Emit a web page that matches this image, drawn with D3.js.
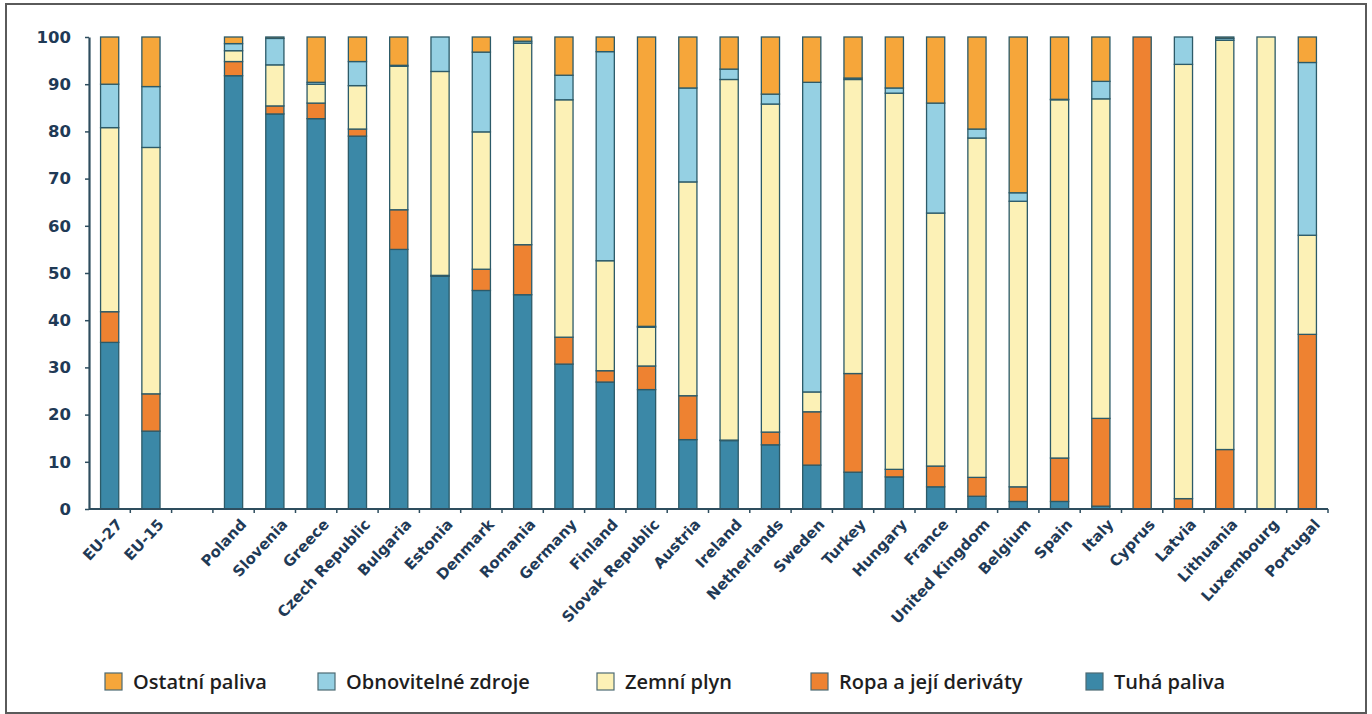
<!DOCTYPE html>
<html>
<head>
<meta charset="utf-8">
<script src="https://cdn.jsdelivr.net/npm/d3@7/dist/d3.min.js"></script>
<style>
  html, body { margin: 0; padding: 0; background: #ffffff; }
  svg { display: block; }
</style>
</head>
<body>
<svg id="chart" width="1372" height="714"></svg>
<script>
// Categories along the x axis ("" is the empty spacer slot after the EU aggregates)
const categories = ["EU-27", "EU-15", "", "Poland", "Slovenia", "Greece", "Czech Republic",
  "Bulgaria", "Estonia", "Denmark", "Romania", "Germany", "Finland", "Slovak Republic",
  "Austria", "Ireland", "Netherlands", "Sweden", "Turkey", "Hungary", "France",
  "United Kingdom", "Belgium", "Spain", "Italy", "Cyprus", "Latvia", "Lithuania",
  "Luxembourg", "Portugal"];

// Shares (%) per fuel, one value per category, stacked bottom to top
const tuhaPaliva = [35.3, 16.5, null, 91.8, 83.7, 82.7, 79.0, 55.0, 49.3, 46.3, 45.4, 30.7, 26.9, 25.3,
  14.7, 14.5, 13.6, 9.3, 7.8, 6.8, 4.7, 2.7, 1.6, 1.6, 0.6, 0, 0, 0, 0, 0];
const ropa = [6.5, 7.9, null, 3.0, 1.7, 3.3, 1.5, 8.4, 0.2, 4.5, 10.6, 5.7, 2.4, 5.0,
  9.3, 0.1, 2.7, 11.3, 20.9, 1.6, 4.4, 4.0, 3.1, 9.2, 18.6, 100, 2.2, 12.6, 0, 37.0];
const zemniPlyn = [39.0, 52.2, null, 2.3, 8.7, 4.0, 9.2, 30.4, 43.2, 29.1, 42.7, 50.3, 23.3, 8.2,
  45.3, 76.4, 69.5, 4.2, 62.3, 79.7, 53.6, 71.9, 60.5, 75.9, 67.7, 0, 92.0, 86.7, 100, 21.0];
const obnovitelne = [9.2, 12.9, null, 1.5, 5.6, 0.4, 5.1, 0.2, 7.3, 16.9, 0.4, 5.2, 44.3, 0.2,
  19.9, 2.2, 2.1, 65.6, 0.3, 1.1, 23.3, 1.9, 1.8, 0.1, 3.7, 0, 5.8, 0.4, 0, 36.6];
const ostatni = [10.0, 10.5, null, 1.4, 0.3, 9.6, 5.2, 6.0, 0, 3.2, 0.9, 8.1, 3.1, 61.3,
  10.8, 6.8, 12.1, 9.6, 8.7, 10.8, 14.0, 19.5, 33.0, 13.2, 9.4, 0, 0, 0.3, 0, 5.4];

// Series keys, labels and fills in stacking order (bottom first)
const seriesKeys = ["tuha", "ropa", "plyn", "obnov", "ostatni"];
const seriesNames = ["Tuhá paliva", "Ropa a její deriváty", "Zemní plyn", "Obnovitelné zdroje", "Ostatní paliva"];
const seriesColors = ["#3b88a7", "#ee8231", "#fcf1b6", "#95d0e3", "#f6a63a"];

// Legend order as shown under the chart
const legendOrder = ["ostatni", "obnov", "plyn", "ropa", "tuha"];

const yTicks = [0, 10, 20, 30, 40, 50, 60, 70, 80, 90, 100];

// Build table rows for d3.stack
const rows = categories.map((c, i) => ({
  cat: c,
  tuha: tuhaPaliva[i] || 0,
  ropa: ropa[i] || 0,
  plyn: zemniPlyn[i] || 0,
  obnov: obnovitelne[i] || 0,
  ostatni: ostatni[i] || 0,
  empty: tuhaPaliva[i] === null
}));

const svg = d3.select("#chart");

// Frame around the figure
svg.append("rect")
  .attr("x", 6).attr("y", 4)
  .attr("width", 1360).attr("height", 709)
  .attr("fill", "#ffffff")
  .attr("stroke", "#5a5a5a")
  .attr("stroke-width", 2);

const plot = { left: 89, right: 1328, top: 37, bottom: 509 };

const x = d3.scaleBand()
  .domain(categories.map((c, i) => i))
  .range([plot.left, plot.right])
  .paddingInner(0.56)
  .paddingOuter(0.28);

const y = d3.scaleLinear().domain([0, 100]).range([plot.bottom, plot.top]);

const color = d3.scaleOrdinal().domain(seriesKeys).range(seriesColors);

const stacked = d3.stack().keys(seriesKeys)(rows);

const axisColor = "#2e4d5e";
const labelColor = "#1f3a56";

// Stacked bars
const layers = svg.append("g").selectAll("g")
  .data(stacked)
  .join("g")
  .attr("fill", d => color(d.key));

layers.selectAll("rect")
  .data(d => d.map((v, i) => ({ v, i })).filter(o => !rows[o.i].empty && o.v[1] - o.v[0] > 0))
  .join("rect")
  .attr("x", o => x(o.i))
  .attr("width", x.bandwidth())
  .attr("y", o => y(o.v[1]))
  .attr("height", o => y(o.v[0]) - y(o.v[1]))
  .attr("stroke", "#2c5a68")
  .attr("stroke-width", 1.3);

// Y axis
const yAxis = svg.append("g")
  .attr("transform", `translate(${plot.left},0)`)
  .call(d3.axisLeft(y).tickValues(yTicks).tickSize(4).tickPadding(14).tickSizeOuter(0));
yAxis.select(".domain").attr("stroke", axisColor).attr("stroke-width", 2.2);
yAxis.selectAll(".tick line").attr("stroke", axisColor).attr("stroke-width", 1.5);
yAxis.selectAll(".tick text")
  .attr("fill", labelColor)
  .style("font-family", "'DejaVu Sans', Verdana, sans-serif")
  .style("font-weight", "bold")
  .style("font-size", "16.5px");

// X axis line with ticks at slot boundaries
const xAxisG = svg.append("g");
xAxisG.append("line")
  .attr("x1", plot.left).attr("x2", plot.right)
  .attr("y1", plot.bottom).attr("y2", plot.bottom)
  .attr("stroke", axisColor).attr("stroke-width", 2.2);
const step = x.step();
const boundaries = categories.map((c, i) => x(i) + x.bandwidth() / 2 + step / 2);
xAxisG.selectAll("line.tk")
  .data(boundaries)
  .join("line")
  .attr("class", "tk")
  .attr("x1", d => d).attr("x2", d => d)
  .attr("y1", plot.bottom).attr("y2", plot.bottom + 4)
  .attr("stroke", axisColor).attr("stroke-width", 1.5);

// Rotated category labels
xAxisG.selectAll("text")
  .data(categories.map((c, i) => ({ c, i })).filter(d => d.c !== ""))
  .join("text")
  .attr("transform", d => `translate(${x(d.i) + x.bandwidth() / 2 + 6},${plot.bottom + 9}) rotate(-47)`)
  .attr("text-anchor", "end")
  .attr("dy", "0.7em")
  .attr("fill", labelColor)
  .style("font-family", "'DejaVu Sans', Verdana, sans-serif")
  .style("font-weight", "bold")
  .style("font-size", "15px")
  .text(d => d.c);

// Legend
const legendX = [105, 318, 597, 811, 1086];
const legend = svg.append("g");
legendOrder.forEach((k, j) => {
  const idx = seriesKeys.indexOf(k);
  const g = legend.append("g").attr("transform", `translate(${legendX[j]},673)`);
  g.append("rect")
    .attr("width", 17).attr("height", 17)
    .attr("fill", color(k))
    .attr("stroke", "#4d6b73").attr("stroke-width", 1.2);
  g.append("text")
    .attr("x", 28).attr("y", 16)
    .attr("fill", "#1e1e1e")
    .style("font-family", "'Open Sans', sans-serif")
    .style("font-weight", "600")
    .style("font-size", "20px")
    .text(seriesNames[idx]);
});
</script>
</body>
</html>
